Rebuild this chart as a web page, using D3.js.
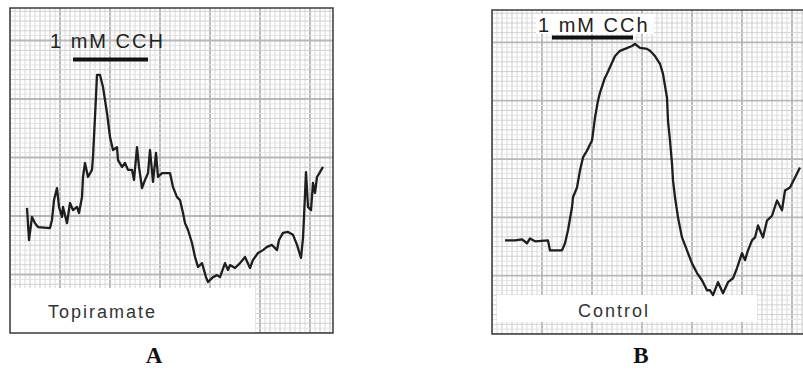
<!DOCTYPE html>
<html>
<head>
<meta charset="utf-8">
<script src="https://cdn.jsdelivr.net/npm/d3@7"></script>
<style>
  body { margin: 0; background: #fff; }
  svg { display: block; }
</style>
</head>
<body>
<svg id="chart" width="803" height="369"></svg>
<script>
// trace A (topiramate): time in s, contraction in arbitrary units (0-100)
const timeA = [8.5, 9.5, 11, 12.5, 14, 20, 21, 22, 23.5, 24.5, 26, 26.5, 28.5, 30, 31.5, 33.5, 34.5, 36, 36.5, 37.5,
  39, 41, 41.5, 42.5, 43.5, 45, 46.5, 47.5, 48.5, 50, 51.5, 53.5, 54, 56, 57.5, 59, 61, 62, 63.5, 64.5,
  66, 67.5, 69, 70, 71.5, 73, 74, 76, 80, 81.5, 83.5, 85, 86.5, 87.5, 89, 91, 92.5, 94, 96, 98,
  99, 101.5, 103.5, 105, 107.5, 109, 110, 112.5, 115, 117.5, 120, 121.5, 124, 126.5, 128.5, 131, 133.5, 134.5, 136.5, 139,
  141.5, 143.5, 145.5, 146.5, 147, 148, 149, 150.5, 151.5, 152.5, 153.5, 155, 156.5];
const valueA = [38.5, 28.6, 35.7, 33.8, 32.6, 32.3, 34.8, 40.9, 44.6, 38.8, 35.7, 38.8, 33.8, 40, 37.8, 38.8, 36.9, 41.8, 48, 52.3,
  48, 50.2, 54.2, 66.5, 79.4, 79.4, 75.7, 71.7, 67.7, 60.3, 56.3, 57.2, 53.2, 51.1, 52.3, 50.2, 50.2, 47.1, 57.2, 51.1,
  44.6, 47.1, 49.2, 56.3, 46.5, 55.4, 48, 49.2, 49.2, 44.9, 41.8, 40.9, 36.9, 33.8, 31.7, 27.7, 23.4, 20.3, 21.5, 17.2,
  15.7, 17.2, 17.8, 17.2, 21.5, 19.4, 20.9, 20, 21.5, 23.4, 20, 22.5, 24.6, 25.5, 26.5, 27.1, 25.5, 28.6, 30.8, 31.1,
  30.2, 27.1, 23.1, 29.2, 35.7, 49.5, 38.8, 37.8, 46.2, 43.1, 48, 49.5, 51.1];

// trace B (control)
const timeB = [6.5, 11.5, 15, 17.5, 19, 21.5, 28, 29, 35, 36.5, 38, 40, 40.5, 42.5, 44, 45.5, 47.5, 50, 51.5, 53,
  54, 56.5, 57.5, 60, 61.5, 64, 66.5, 70, 71.5, 74, 77.5, 79, 81.5, 84, 85.5, 87.5, 88, 89, 90, 90.5,
  91.5, 93, 95, 97.5, 100, 102.5, 105, 107.5, 109, 110.5, 113, 115.5, 118, 120.5, 122.5, 125, 126.5, 128, 130, 131.5,
  133, 135.5, 137.5, 140, 142.5, 145, 146.5, 149, 151.5, 154];
const valueB = [28.9, 28.9, 29.2, 28, 29.5, 28.6, 28.9, 25.8, 25.8, 28, 32, 39.1, 42.2, 45.2, 50.5, 54.5, 56.6, 59.7, 66.8, 72,
  74.5, 79.1, 80.3, 83.7, 85.8, 87.4, 88, 88.9, 89.5, 88.3, 88, 87.4, 85.8, 83.4, 80.3, 72.9, 65.8, 59.7, 52.6, 47.4,
  42.2, 36, 29.8, 25.8, 21.8, 18.8, 16.6, 13.5, 13.5, 12, 16, 12.6, 16, 17.2, 20.3, 25, 22.8, 25.8, 28.9, 29.8,
  33.5, 29.8, 35, 36.5, 41.2, 38.2, 44.3, 45.2, 48.3, 51.4];

// drug application bars [start, end] in s
const barA = [31.5, 69];
const barB = [30, 70.5];

const panels = [
  { time: timeA, value: valueA, bar: barA, drug: "1 mM CCH", name: "Topiramate", letter: "A",
    x0: 10, x1: 333, y0: 8, y1: 333, tmax: 161.5,
    drugX: 50, drugY: 48, drugBox: null, nameX: 48, nameY: 318,
    nameBox: [10, 288, 255, 333], barY: 59.5, letterX: 154 },
  { time: timeB, value: valueB, bar: barB, drug: "1 mM CCh", name: "Control", letter: "B",
    x0: 492, x1: 810, y0: 10, y1: 334, tmax: 159,
    drugX: 538, drugY: 32, drugBox: [536, 14, 654, 34], nameX: 578, nameY: 317,
    nameBox: [497, 295, 757, 322], barY: 37.5, letterX: 641 }
];

const svg = d3.select("#chart");

panels.forEach((p, i) => {
  const x = d3.scaleLinear().domain([0, p.tmax]).range([p.x0, p.x1]);
  const y = d3.scaleLinear().domain([0, 100]).range([p.y1, p.y0]);
  const g = svg.append("g");

  g.append("clipPath").attr("id", "clip" + i)
    .append("rect").attr("x", p.x0).attr("y", p.y0)
    .attr("width", p.x1 - p.x0).attr("height", p.y1 - p.y0);

  const grid = g.append("g").attr("clip-path", `url(#clip${i})`);

  // chart paper grid
  const vt = d3.range(0, p.tmax + 0.1, 2.5);
  grid.selectAll("line.v").data(vt).join("line")
    .attr("x1", d => x(d)).attr("x2", d => x(d))
    .attr("y1", p.y0).attr("y2", p.y1)
    .attr("stroke", (d, j) => j % 10 === 0 ? "#b4b4b4" : (j % 2 === 0 ? "#c8c8c8" : "#d8d8d8"))
    .attr("stroke-width", (d, j) => j % 10 === 0 ? 1.8 : 1);
  const ht = d3.range(0, 100.1, 1.5);
  grid.selectAll("line.h").data(ht).join("line")
    .attr("y1", d => y(d)).attr("y2", d => y(d))
    .attr("x1", p.x0).attr("x2", p.x1)
    .attr("stroke", (d, j) => j % 12 === 0 ? "#b8b8b8" : (j % 2 === 0 ? "#d0d0d0" : "#e2e2e2"))
    .attr("stroke-width", (d, j) => j % 12 === 0 ? 1.8 : 1);

  // white label patches
  [p.drugBox, p.nameBox].filter(b => b).forEach(b => {
    grid.append("rect").attr("x", b[0]).attr("y", b[1])
      .attr("width", b[2] - b[0]).attr("height", b[3] - b[1])
      .attr("fill", "#fff");
  });

  // trace
  const pts = d3.zip(p.time, p.value);
  g.append("path").datum(pts)
    .attr("clip-path", `url(#clip${i})`)
    .attr("fill", "none")
    .attr("stroke", "#1e1e1e")
    .attr("stroke-width", 2.3)
    .attr("stroke-linejoin", "round")
    .attr("d", d3.line().x(d => x(d[0])).y(d => y(d[1])));

  // drug bar + text
  g.append("line")
    .attr("x1", x(p.bar[0])).attr("x2", x(p.bar[1]))
    .attr("y1", p.barY).attr("y2", p.barY)
    .attr("stroke", "#111").attr("stroke-width", 4);
  g.append("text")
    .attr("x", p.drugX).attr("y", p.drugY)
    .attr("font-family", "Liberation Sans, Arial, sans-serif")
    .attr("font-size", 20).attr("letter-spacing", 2)
    .attr("fill", "#222")
    .text(p.drug);
  g.append("text")
    .attr("x", p.nameX).attr("y", p.nameY)
    .attr("font-family", "Liberation Sans, Arial, sans-serif")
    .attr("font-size", 18).attr("letter-spacing", 2)
    .attr("fill", "#333")
    .text(p.name);

  // frame
  g.append("rect")
    .attr("x", p.x0).attr("y", p.y0)
    .attr("width", p.x1 - p.x0).attr("height", p.y1 - p.y0)
    .attr("fill", "none").attr("stroke", "#3a3a3a").attr("stroke-width", 1.5);

  // panel letter
  svg.append("text")
    .attr("x", p.letterX).attr("y", 363)
    .attr("text-anchor", "middle")
    .attr("font-family", "Liberation Serif, Times New Roman, serif")
    .attr("font-weight", "bold").attr("font-size", 23)
    .attr("fill", "#111")
    .text(p.letter);
});
</script>
</body>
</html>
